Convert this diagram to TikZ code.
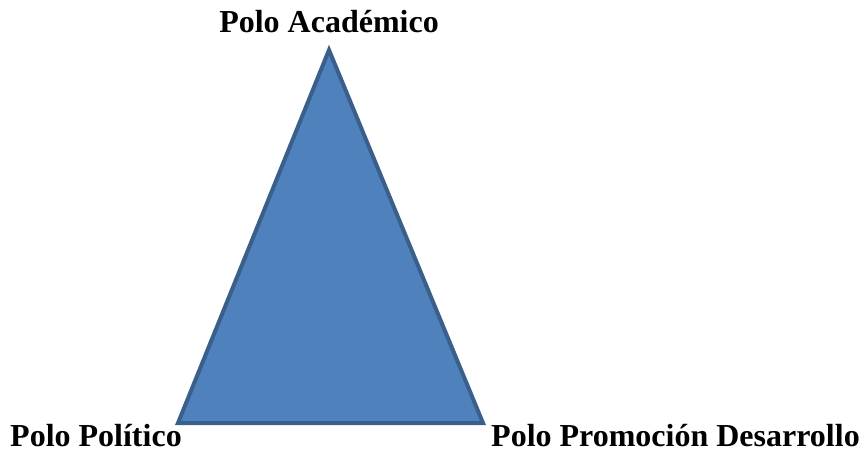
\documentclass[tikz,border=0pt]{standalone}
\usepackage{fontspec}
\setmainfont{Liberation Serif}
\definecolor{trifill}{HTML}{4F81BD}
\definecolor{tridraw}{HTML}{3A5F8B}
\begin{document}
\begin{tikzpicture}[x=1pt,y=-1pt,
  pole/.style={font=\fontsize{32}{38}\selectfont\bfseries, inner sep=0pt}]
\useasboundingbox (0,0) rectangle (868,452);
\coordinate (apex) at (329,50);
\coordinate (bl) at (178,423);
\coordinate (br) at (483,423);
\filldraw[fill=trifill, draw=tridraw, line width=4pt, line join=miter] (apex) -- (br) -- (bl) -- cycle;
\node[pole, anchor=base] (acad) at (329,33) {Polo Académico};
\node[pole, anchor=base west] (pol) at (10,446) {Polo Político};
\node[pole, anchor=base west] (prom) at (491,446) {Polo Promoción Desarrollo};
\end{tikzpicture}
\end{document}
